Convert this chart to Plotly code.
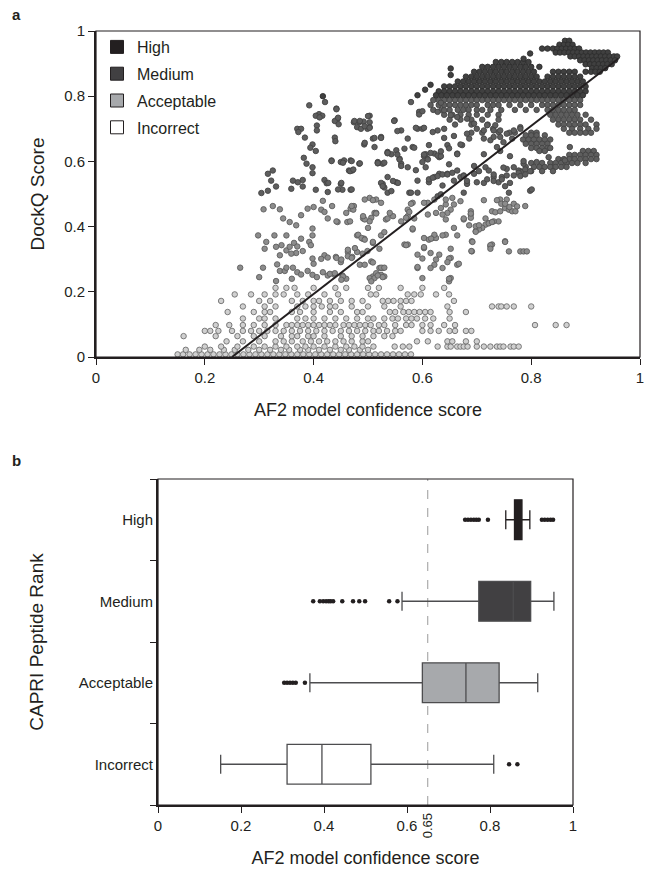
import plotly.graph_objects as go

# ---------------- Panel a: DockQ vs AF2 confidence ----------------
# Incorrect models: rows of (DockQ, [confidence, ...])
INC_ROWS = [
    (0.008, [0.150, 0.160, 0.172, 0.183, 0.194, 0.205, 0.216, 0.227, 0.238, 0.249, 0.260, 0.271, 0.282,
             0.293, 0.304, 0.315, 0.326, 0.337, 0.348, 0.359, 0.370, 0.381, 0.392, 0.403, 0.414, 0.425,
             0.436, 0.447, 0.458, 0.469, 0.480, 0.491, 0.502, 0.513, 0.524, 0.535, 0.546, 0.557, 0.568, 0.579]),
    (0.022, [0.165, 0.19, 0.21, 0.235, 0.255, 0.28, 0.30, 0.32, 0.34, 0.355, 0.375, 0.39, 0.41, 0.43,
             0.45, 0.465, 0.485, 0.50]),
    (0.032, [0.20, 0.23, 0.26, 0.29, 0.31, 0.33, 0.35, 0.37, 0.385, 0.40, 0.42, 0.44, 0.46, 0.475, 0.49,
             0.51, 0.549, 0.564, 0.576, 0.628, 0.646, 0.652, 0.664, 0.67, 0.676, 0.683, 0.70, 0.713, 0.725,
             0.737, 0.743, 0.749, 0.762, 0.768, 0.777]),
    (0.048, [0.24, 0.27, 0.30, 0.33, 0.345, 0.36, 0.38, 0.395, 0.41, 0.425, 0.44, 0.455, 0.47, 0.49, 0.50,
             0.59, 0.61, 0.646, 0.655, 0.68, 0.70]),
    (0.064, [0.161, 0.22, 0.26, 0.29, 0.31, 0.34, 0.36, 0.37, 0.39, 0.40, 0.42, 0.45, 0.47, 0.49, 0.51,
             0.53, 0.545]),
    (0.080, [0.20, 0.21, 0.225, 0.25, 0.27, 0.285, 0.30, 0.315, 0.33, 0.345, 0.36, 0.375, 0.39, 0.405,
             0.42, 0.435, 0.45, 0.465, 0.48, 0.495, 0.51, 0.52, 0.535, 0.55, 0.56, 0.60, 0.615, 0.63, 0.65,
             0.66, 0.68, 0.69]),
    (0.098, [0.22, 0.245, 0.27, 0.29, 0.31, 0.33, 0.35, 0.36, 0.37, 0.38, 0.39, 0.40, 0.41, 0.42, 0.43,
             0.44, 0.455, 0.465, 0.475, 0.485, 0.495, 0.505, 0.52, 0.53, 0.55, 0.57, 0.58, 0.60, 0.615,
             0.64, 0.66, 0.807, 0.845, 0.865]),
    (0.118, [0.27, 0.30, 0.31, 0.33, 0.37, 0.385, 0.40, 0.42, 0.44, 0.46, 0.48, 0.50, 0.51, 0.53, 0.545,
             0.555, 0.57, 0.58, 0.59, 0.605, 0.62, 0.65]),
    (0.138, [0.242, 0.29, 0.31, 0.32, 0.36, 0.375, 0.40, 0.43, 0.45, 0.48, 0.49, 0.54, 0.55, 0.565, 0.575,
             0.585, 0.595, 0.605, 0.615, 0.65, 0.68]),
    (0.155, [0.27, 0.31, 0.33, 0.37, 0.385, 0.40, 0.415, 0.43, 0.44, 0.47, 0.50, 0.53, 0.56, 0.646, 0.728,
             0.74, 0.745, 0.755, 0.768, 0.80]),
    (0.172, [0.23, 0.30, 0.32, 0.36, 0.38, 0.40, 0.41, 0.43, 0.45, 0.47, 0.49, 0.527, 0.537, 0.547, 0.56,
             0.57, 0.58, 0.658]),
    (0.192, [0.255, 0.285, 0.31, 0.33, 0.345, 0.37, 0.39, 0.42, 0.445, 0.505, 0.515, 0.573, 0.585, 0.597,
             0.625, 0.649]),
    (0.212, [0.33, 0.35, 0.365, 0.40, 0.44, 0.46, 0.50, 0.52, 0.56, 0.60, 0.64]),
]

# Acceptable models: (confidence, DockQ)
ACC_PTS = [
    (0.265, 0.274), (0.307, 0.274), (0.298, 0.373), (0.31, 0.332), (0.313, 0.353), (0.328, 0.373),
    (0.35, 0.373), (0.308, 0.453), (0.325, 0.463), (0.338, 0.453), (0.344, 0.425), (0.356, 0.414),
    (0.368, 0.404), (0.377, 0.435), (0.389, 0.455), (0.40, 0.46), (0.417, 0.479), (0.414, 0.452),
    (0.42, 0.445), (0.434, 0.463), (0.426, 0.425), (0.444, 0.414), (0.462, 0.414), (0.468, 0.455),
    (0.474, 0.463), (0.491, 0.425), (0.48, 0.373), (0.49, 0.363), (0.398, 0.394), (0.398, 0.373),
    (0.377, 0.363), (0.331, 0.338), (0.341, 0.343), (0.35, 0.327), (0.356, 0.338), (0.364, 0.35),
    (0.37, 0.339), (0.368, 0.319), (0.38, 0.325), (0.359, 0.317), (0.338, 0.312), (0.392, 0.353),
    (0.395, 0.343), (0.333, 0.284), (0.338, 0.264), (0.347, 0.264), (0.35, 0.274), (0.362, 0.274),
    (0.37, 0.26), (0.377, 0.253), (0.389, 0.264), (0.398, 0.252), (0.406, 0.245), (0.417, 0.26),
    (0.426, 0.25), (0.438, 0.253), (0.453, 0.25), (0.40, 0.286), (0.398, 0.302), (0.42, 0.312),
    (0.426, 0.305), (0.414, 0.301), (0.441, 0.307), (0.45, 0.291), (0.463, 0.322), (0.471, 0.307),
    (0.48, 0.322), (0.49, 0.317), (0.499, 0.325), (0.493, 0.363), (0.331, 0.233), (0.46, 0.24),
    (0.36, 0.24), (0.30, 0.245),
    (0.755, 0.483), (0.743, 0.483), (0.728, 0.447), (0.734, 0.444), (0.743, 0.447), (0.752, 0.457),
    (0.759, 0.452), (0.765, 0.447), (0.771, 0.447), (0.74, 0.416), (0.731, 0.416), (0.722, 0.411),
    (0.716, 0.406), (0.71, 0.396), (0.704, 0.391), (0.698, 0.386), (0.691, 0.355), (0.691, 0.324),
    (0.725, 0.34), (0.728, 0.345), (0.752, 0.355), (0.759, 0.324), (0.78, 0.324), (0.786, 0.324),
    (0.792, 0.324), (0.789, 0.463), (0.67, 0.478), (0.658, 0.468), (0.643, 0.468), (0.634, 0.457),
    (0.652, 0.452), (0.646, 0.442), (0.637, 0.437), (0.625, 0.442), (0.61, 0.473), (0.603, 0.473),
    (0.582, 0.473), (0.573, 0.452), (0.573, 0.432), (0.57, 0.427), (0.561, 0.416), (0.582, 0.391),
    (0.61, 0.437), (0.622, 0.483), (0.643, 0.483), (0.655, 0.488), (0.643, 0.422), (0.658, 0.396),
    (0.676, 0.422), (0.689, 0.447), (0.689, 0.437), (0.689, 0.427), (0.698, 0.401), (0.533, 0.422),
    (0.546, 0.432), (0.54, 0.442), (0.512, 0.442), (0.506, 0.427), (0.503, 0.416), (0.5, 0.396),
    (0.494, 0.422), (0.491, 0.432), (0.473, 0.452), (0.47, 0.463), (0.46, 0.442), (0.442, 0.416),
    (0.467, 0.416), (0.515, 0.442), (0.515, 0.483), (0.503, 0.488), (0.494, 0.483), (0.524, 0.473),
    (0.482, 0.375), (0.488, 0.365), (0.494, 0.36), (0.509, 0.35), (0.476, 0.334), (0.463, 0.329),
    (0.463, 0.309), (0.442, 0.304), (0.451, 0.299), (0.47, 0.304), (0.485, 0.283), (0.494, 0.283),
    (0.506, 0.293), (0.521, 0.273), (0.527, 0.273), (0.509, 0.247), (0.503, 0.242), (0.512, 0.242),
    (0.524, 0.252), (0.53, 0.247), (0.515, 0.257), (0.506, 0.232), (0.454, 0.247), (0.451, 0.237),
    (0.43, 0.255), (0.439, 0.257), (0.567, 0.345), (0.573, 0.345), (0.591, 0.314), (0.603, 0.334),
    (0.612, 0.36), (0.619, 0.365), (0.625, 0.365), (0.622, 0.375), (0.643, 0.375), (0.603, 0.365),
    (0.615, 0.319), (0.631, 0.314), (0.625, 0.299), (0.622, 0.283), (0.615, 0.273), (0.637, 0.273),
    (0.652, 0.304), (0.664, 0.283), (0.652, 0.242), (0.649, 0.232), (0.591, 0.273), (0.60, 0.242),
    (0.509, 0.481), (0.515, 0.44), (0.536, 0.425), (0.524, 0.373), (0.53, 0.383), (0.509, 0.353),
    (0.521, 0.332), (0.509, 0.29), (0.524, 0.274), (0.53, 0.274), (0.518, 0.25), (0.527, 0.245),
    (0.579, 0.47), (0.576, 0.445), (0.585, 0.425), (0.582, 0.394), (0.57, 0.343), (0.591, 0.276),
    (0.60, 0.302), (0.603, 0.337), (0.616, 0.363), (0.637, 0.373), (0.649, 0.302), (0.646, 0.291),
    (0.649, 0.24), (0.664, 0.373), (0.652, 0.332), (0.667, 0.286), (0.676, 0.425), (0.686, 0.404),
    (0.689, 0.44), (0.698, 0.384), (0.704, 0.404), (0.713, 0.481), (0.716, 0.425), (0.722, 0.41),
    (0.728, 0.414), (0.737, 0.481), (0.725, 0.343), (0.725, 0.332), (0.692, 0.353), (0.69, 0.325),
    (0.752, 0.353), (0.745, 0.47), (0.752, 0.47), (0.76, 0.46), (0.768, 0.47), (0.774, 0.462),
]

# Medium models: dense rows (DockQ, [confidence, ...]) plus scattered points
MED_ROWS = [
    (0.788, [0.62, 0.63, 0.64, 0.65, 0.66, 0.67, 0.68, 0.69, 0.70, 0.71, 0.72, 0.73, 0.74, 0.75, 0.76,
             0.77, 0.78, 0.79, 0.80, 0.81, 0.82, 0.83, 0.84, 0.85, 0.86, 0.87, 0.88, 0.89]),
    (0.773, [0.615, 0.63, 0.64, 0.65, 0.66, 0.67, 0.68, 0.69, 0.70, 0.72, 0.73, 0.74, 0.76, 0.78, 0.80,
             0.82, 0.83, 0.84, 0.85, 0.86, 0.87, 0.88, 0.89]),
    (0.758, [0.62, 0.635, 0.65, 0.665, 0.675, 0.685, 0.70, 0.71, 0.725, 0.745, 0.77, 0.79, 0.81, 0.83,
             0.84, 0.85, 0.86, 0.87, 0.88]),
    (0.743, [0.64, 0.655, 0.67, 0.685, 0.70, 0.72, 0.74, 0.835, 0.845, 0.855, 0.865, 0.875, 0.885, 0.90]),
    (0.728, [0.65, 0.67, 0.69, 0.71, 0.74, 0.84, 0.85, 0.86, 0.87, 0.88, 0.89, 0.91]),
    (0.713, [0.66, 0.69, 0.72, 0.85, 0.86, 0.87, 0.88, 0.89, 0.90, 0.92]),
    (0.700, [0.64, 0.70, 0.73, 0.86, 0.875, 0.89, 0.905, 0.92]),
    (0.688, [0.69, 0.71, 0.76, 0.77, 0.80, 0.81, 0.87, 0.88, 0.89, 0.90, 0.91]),
    (0.680, [0.79, 0.80, 0.81, 0.825]),
    (0.667, [0.785, 0.795, 0.805, 0.815, 0.825, 0.835]),
    (0.654, [0.79, 0.80, 0.81, 0.82, 0.83]),
    (0.641, [0.80, 0.81, 0.82, 0.83, 0.835]),
    (0.632, [0.815, 0.825, 0.895, 0.905, 0.915]),
    (0.620, [0.87, 0.88, 0.89, 0.90, 0.91, 0.92]),
    (0.607, [0.85, 0.86, 0.87, 0.88, 0.89, 0.90, 0.91, 0.92]),
    (0.595, [0.80, 0.82, 0.835, 0.845, 0.855, 0.865, 0.875, 0.885, 0.90]),
    (0.583, [0.79, 0.805, 0.815, 0.825, 0.835, 0.845, 0.855, 0.865]),
    (0.570, [0.78, 0.80, 0.82, 0.84]),
]
MED_PTS = [
    (0.421, 0.782), (0.392, 0.772), (0.442, 0.762), (0.41, 0.745), (0.404, 0.74), (0.416, 0.74),
    (0.411, 0.735), (0.444, 0.73), (0.439, 0.724), (0.446, 0.714), (0.474, 0.72), (0.484, 0.72),
    (0.492, 0.722), (0.48, 0.705), (0.487, 0.70), (0.499, 0.70), (0.37, 0.70), (0.377, 0.70),
    (0.372, 0.69), (0.384, 0.673), (0.406, 0.71), (0.406, 0.695), (0.439, 0.673), (0.44, 0.662),
    (0.493, 0.652), (0.398, 0.652), (0.394, 0.642), (0.404, 0.632), (0.382, 0.611), (0.387, 0.593),
    (0.398, 0.582), (0.398, 0.564), (0.433, 0.603), (0.45, 0.598), (0.456, 0.603), (0.468, 0.603),
    (0.465, 0.572), (0.471, 0.572), (0.484, 0.593), (0.316, 0.562), (0.325, 0.572), (0.322, 0.541),
    (0.331, 0.523), (0.304, 0.503), (0.316, 0.51), (0.362, 0.541), (0.371, 0.536), (0.38, 0.543),
    (0.38, 0.523), (0.359, 0.516), (0.42, 0.543), (0.424, 0.533), (0.45, 0.531), (0.468, 0.513),
    (0.453, 0.513), (0.426, 0.506), (0.404, 0.513),
    (0.503, 0.74), (0.503, 0.72), (0.503, 0.705), (0.549, 0.726), (0.579, 0.782), (0.594, 0.752),
    (0.561, 0.695), (0.591, 0.70), (0.60, 0.70), (0.628, 0.695), (0.619, 0.69), (0.573, 0.67),
    (0.509, 0.67), (0.524, 0.675), (0.512, 0.644), (0.536, 0.629), (0.552, 0.634), (0.567, 0.639),
    (0.582, 0.644), (0.612, 0.65), (0.622, 0.624), (0.631, 0.613), (0.646, 0.65), (0.649, 0.64),
    (0.673, 0.65), (0.664, 0.624), (0.682, 0.685), (0.686, 0.67), (0.713, 0.67), (0.725, 0.665),
    (0.731, 0.675), (0.74, 0.69), (0.737, 0.644), (0.755, 0.685), (0.765, 0.67), (0.749, 0.659),
    (0.768, 0.695), (0.78, 0.705), (0.518, 0.598), (0.527, 0.593), (0.558, 0.608), (0.561, 0.593),
    (0.573, 0.582), (0.60, 0.598), (0.609, 0.608), (0.606, 0.582), (0.628, 0.618), (0.631, 0.562),
    (0.622, 0.552), (0.646, 0.562), (0.664, 0.572), (0.67, 0.552), (0.676, 0.557), (0.695, 0.562),
    (0.716, 0.582), (0.722, 0.572), (0.755, 0.577), (0.768, 0.582), (0.777, 0.572), (0.786, 0.593),
    (0.81, 0.598), (0.832, 0.613), (0.862, 0.603), (0.871, 0.644), (0.527, 0.531), (0.53, 0.52),
    (0.536, 0.552), (0.552, 0.536), (0.591, 0.541), (0.612, 0.536), (0.637, 0.526), (0.658, 0.541),
    (0.682, 0.531), (0.70, 0.536), (0.731, 0.552), (0.74, 0.536), (0.746, 0.552), (0.755, 0.557),
    (0.768, 0.557), (0.783, 0.567), (0.798, 0.51),
    (0.433, 0.601), (0.454, 0.596), (0.47, 0.601), (0.485, 0.594), (0.518, 0.594), (0.53, 0.596),
    (0.558, 0.606), (0.561, 0.586), (0.588, 0.573), (0.603, 0.616), (0.61, 0.606), (0.634, 0.616),
    (0.649, 0.591), (0.664, 0.622), (0.713, 0.622), (0.743, 0.632), (0.761, 0.616), (0.786, 0.601),
    (0.789, 0.575), (0.467, 0.57), (0.473, 0.575), (0.536, 0.625), (0.543, 0.622), (0.606, 0.622),
    (0.427, 0.534), (0.451, 0.534), (0.445, 0.514), (0.47, 0.514), (0.524, 0.534), (0.527, 0.524),
    (0.546, 0.54), (0.555, 0.534), (0.536, 0.504), (0.543, 0.509), (0.576, 0.504), (0.591, 0.504),
    (0.612, 0.545), (0.619, 0.55), (0.628, 0.555), (0.637, 0.56), (0.646, 0.56), (0.655, 0.565),
    (0.676, 0.555), (0.682, 0.54), (0.695, 0.586), (0.704, 0.57), (0.713, 0.534), (0.719, 0.545),
    (0.731, 0.56), (0.731, 0.54), (0.749, 0.581), (0.761, 0.534), (0.777, 0.565), (0.78, 0.555),
    (0.789, 0.56), (0.798, 0.57), (0.746, 0.545), (0.752, 0.524), (0.759, 0.504), (0.801, 0.514),
    (0.628, 0.493), (0.634, 0.499), (0.579, 0.504), (0.676, 0.504),
    (0.442, 0.76), (0.445, 0.734), (0.475, 0.724), (0.485, 0.724), (0.50, 0.739), (0.494, 0.708),
    (0.503, 0.703), (0.548, 0.724), (0.594, 0.744), (0.60, 0.754), (0.588, 0.703), (0.603, 0.703),
    (0.554, 0.693), (0.512, 0.672), (0.524, 0.672), (0.494, 0.657), (0.585, 0.642), (0.64, 0.672),
    (0.658, 0.678), (0.67, 0.652), (0.603, 0.621), (0.615, 0.626), (0.634, 0.631), (0.536, 0.626),
    (0.518, 0.595), (0.554, 0.621), (0.628, 0.752), (0.64, 0.757), (0.652, 0.742), (0.664, 0.736),
    (0.682, 0.731), (0.695, 0.716), (0.713, 0.695), (0.731, 0.695), (0.743, 0.695), (0.743, 0.675),
    (0.734, 0.711), (0.719, 0.711), (0.78, 0.70), (0.634, 0.78),
]

# High models: dense rows (DockQ, [confidence, ...]) plus scattered points
HIGH_ROWS = [
    (0.970, [0.862, 0.870]),
    (0.958, [0.852, 0.860, 0.868, 0.876]),
    (0.946, [0.820, 0.830, 0.840, 0.848, 0.856, 0.864, 0.872, 0.880, 0.888]),
    (0.934, [0.845, 0.853, 0.861, 0.869, 0.877, 0.885, 0.893, 0.901, 0.909, 0.917, 0.925, 0.933, 0.941]),
    (0.922, [0.872, 0.880, 0.888, 0.896, 0.904, 0.912, 0.920, 0.928, 0.936, 0.944, 0.952, 0.958]),
    (0.910, [0.890, 0.898, 0.906, 0.914, 0.922, 0.930, 0.938, 0.946, 0.954]),
    (0.905, [0.735, 0.745, 0.755, 0.765, 0.775, 0.785, 0.795]),
    (0.898, [0.900, 0.908, 0.916, 0.924, 0.932, 0.940, 0.948]),
    (0.890, [0.71, 0.72, 0.73, 0.74, 0.75, 0.76, 0.77, 0.78, 0.79, 0.80, 0.815]),
    (0.886, [0.912, 0.920, 0.928, 0.936]),
    (0.875, [0.695, 0.705, 0.715, 0.725, 0.735, 0.745, 0.755, 0.765, 0.775, 0.785, 0.795, 0.805, 0.84,
             0.85, 0.86, 0.87, 0.88, 0.90, 0.91, 0.918, 0.926]),
    (0.860, [0.68, 0.69, 0.70, 0.71, 0.72, 0.73, 0.74, 0.75, 0.76, 0.77, 0.78, 0.79, 0.80, 0.81, 0.83,
             0.84, 0.85, 0.86, 0.87, 0.88, 0.89]),
    (0.845, [0.665, 0.675, 0.685, 0.695, 0.705, 0.715, 0.725, 0.735, 0.745, 0.755, 0.765, 0.775, 0.785,
             0.795, 0.805, 0.815, 0.825, 0.835, 0.845, 0.855, 0.865, 0.875, 0.885, 0.895]),
    (0.830, [0.64, 0.65, 0.66, 0.67, 0.68, 0.69, 0.70, 0.71, 0.72, 0.73, 0.74, 0.75, 0.76, 0.77, 0.78,
             0.79, 0.80, 0.81, 0.82, 0.83, 0.84, 0.85, 0.86, 0.87, 0.88, 0.89, 0.90]),
    (0.815, [0.63, 0.64, 0.65, 0.66, 0.67, 0.68, 0.69, 0.70, 0.71, 0.72, 0.73, 0.74, 0.75, 0.76, 0.77,
             0.78, 0.79, 0.80, 0.81, 0.82, 0.83, 0.84, 0.85, 0.86, 0.87, 0.88, 0.89, 0.90]),
    (0.803, [0.625, 0.635, 0.645, 0.655, 0.665, 0.675, 0.685, 0.695, 0.705, 0.715, 0.725, 0.735, 0.745,
             0.755, 0.765, 0.775, 0.785, 0.795, 0.805, 0.815, 0.825, 0.835, 0.845, 0.855, 0.865, 0.875,
             0.885, 0.895]),
]
HIGH_PTS = [
    (0.417, 0.80), (0.591, 0.803), (0.652, 0.885), (0.652, 0.865), (0.798, 0.931), (0.786, 0.915),
    (0.605, 0.82), (0.615, 0.835),
]

# Fitted trend line (two end points)
FIT_X = [0.25, 0.96]
FIT_Y = [0.0, 0.915]

# ---------------- Panel b: box plots by CAPRI rank ----------------
RANKS = ["High", "Medium", "Acceptable", "Incorrect"]
BOX_Q1 = [0.859, 0.773, 0.637, 0.311]
BOX_MEDIAN = [0.868, 0.856, 0.742, 0.395]
BOX_Q3 = [0.877, 0.898, 0.822, 0.513]
BOX_LOW = [0.838, 0.588, 0.366, 0.151]
BOX_HIGH = [0.896, 0.954, 0.915, 0.809]
OUT_HIGH = [0.740, 0.747, 0.754, 0.761, 0.767, 0.773, 0.795, 0.925, 0.932, 0.939, 0.946, 0.952]
OUT_MEDIUM = [0.374, 0.390, 0.398, 0.405, 0.411, 0.416, 0.422, 0.444, 0.470, 0.485, 0.499, 0.557, 0.577]
OUT_ACCEPTABLE = [0.304, 0.311, 0.318, 0.325, 0.332, 0.354]
OUT_INCORRECT = [0.846, 0.866]
THRESHOLD = 0.65

# ---------------- styling ----------------
FONT = "Liberation Sans, Arial, sans-serif"
INK = "#231f20"
W, H = 646, 873
FILL = {"High": "#231f20", "Medium": "#414042", "Acceptable": "#a7a9ac", "Incorrect": "#ffffff"}
DOT_FILL = {"High": "#404040", "Medium": "#5e5e5e", "Acceptable": "#8c8c8c", "Incorrect": "#d0d0d0"}
DOT_LINE = {"High": "#2e2e2e", "Medium": "#444444", "Acceptable": "#5e5e5e", "Incorrect": "#6e6e6e"}
BOX_LINE = {"High": "#231f20", "Medium": "#4d4d4f", "Acceptable": "#4d4d4f", "Incorrect": "#4d4d4f"}


def expand_rows(rows):
    xs, ys = [], []
    for y, row in rows:
        for x in row:
            xs.append(x)
            ys.append(y)
    return xs, ys


def split_pts(pts):
    return [p[0] for p in pts], [p[1] for p in pts]


inc_x, inc_y = expand_rows(INC_ROWS)
acc_x, acc_y = split_pts(ACC_PTS)
mr_x, mr_y = expand_rows(MED_ROWS)
mp_x, mp_y = split_pts(MED_PTS)
hr_x, hr_y = expand_rows(HIGH_ROWS)
hp_x, hp_y = split_pts(HIGH_PTS)

series = {
    "Incorrect": (inc_x, inc_y),
    "Acceptable": (acc_x, acc_y),
    "Medium": (mr_x + mp_x, mr_y + mp_y),
    "High": (hr_x + hp_x, hr_y + hp_y),
}

fig = go.Figure()

# legend entries (square swatches)
for name in RANKS:
    fig.add_trace(go.Scatter(
        x=[None], y=[None], mode="markers", name=name, legendgroup=name,
        marker=dict(symbol="square", size=13, color=FILL[name], line=dict(color=INK, width=1)),
        xaxis="x", yaxis="y"))

for name in ["Incorrect", "Acceptable", "Medium", "High"]:
    xs, ys = series[name]
    fig.add_trace(go.Scatter(
        x=xs, y=ys, mode="markers", showlegend=False, cliponaxis=False,
        marker=dict(size=5.5, color=DOT_FILL[name], line=dict(color=DOT_LINE[name], width=0.9)),
        xaxis="x", yaxis="y", hoverinfo="skip"))

fig.add_trace(go.Scatter(x=FIT_X, y=FIT_Y, mode="lines", showlegend=False,
                         line=dict(color=INK, width=2), xaxis="x", yaxis="y"))

# box plots
for i, name in enumerate(RANKS):
    fig.add_trace(go.Box(
        y=[name], q1=[BOX_Q1[i]], median=[BOX_MEDIAN[i]], q3=[BOX_Q3[i]],
        lowerfence=[BOX_LOW[i]], upperfence=[BOX_HIGH[i]], orientation="h",
        fillcolor=FILL[name], line=dict(color=BOX_LINE[name], width=1.3), width=0.49,
        whiskerwidth=0.48, boxpoints=False, showlegend=False, xaxis="x2", yaxis="y2",
        hoverinfo="skip"))

for name, outs in zip(RANKS, [OUT_HIGH, OUT_MEDIUM, OUT_ACCEPTABLE, OUT_INCORRECT]):
    fig.add_trace(go.Scatter(
        x=outs, y=[name] * len(outs), mode="markers", showlegend=False,
        marker=dict(size=4.5, color=INK), xaxis="x2", yaxis="y2", hoverinfo="skip"))

ticks = [0, 0.2, 0.4, 0.6, 0.8, 1]
ticktext = ["0", "0.2", "0.4", "0.6", "0.8", "1"]

axis_common = dict(showgrid=False, zeroline=False, showline=True, linecolor=INK, linewidth=2,
                   ticks="outside", ticklen=6, tickwidth=1.2, tickcolor=INK, automargin=False,
                   ticklabeloverflow="allow",
                   tickfont=dict(family=FONT, size=15, color=INK))

fig.update_layout(
    width=W, height=H, margin=dict(l=0, r=0, t=0, b=0, autoexpand=False),
    paper_bgcolor="white", plot_bgcolor="white",
    font=dict(family=FONT, color=INK),
    showlegend=True,
    legend=dict(x=97 / W, y=1 - 30 / H, xanchor="left", yanchor="top", bgcolor="rgba(0,0,0,0)",
                font=dict(family=FONT, size=16, color=INK), tracegroupgap=3, itemsizing="trace",
                traceorder="grouped"),
    xaxis=dict(domain=[96 / W, 640 / W], range=[0, 1], anchor="y", tickvals=ticks, ticktext=ticktext,
               title=dict(text="AF2 model confidence score", font=dict(family=FONT, size=18, color=INK),
                          standoff=18),
               **axis_common),
    yaxis=dict(domain=[1 - 357 / H, 1 - 31 / H], range=[0, 1], anchor="x", tickvals=ticks,
               ticktext=ticktext,
               title=dict(text="DockQ Score", font=dict(family=FONT, size=19, color=INK), standoff=14),
               **axis_common),
    xaxis2=dict(domain=[158 / W, 573 / W], range=[0, 1], anchor="y2", tickvals=ticks, ticktext=ticktext,
                title=dict(text="AF2 model confidence score", font=dict(family=FONT, size=18, color=INK),
                           standoff=18),
                **axis_common),
    yaxis2=dict(domain=[1 - 805 / H, 1 - 479 / H], anchor="x2", type="category",
                categoryorder="array", categoryarray=RANKS[::-1], range=[-0.5, 3.5],
                tickson="boundaries",
                title=dict(text="CAPRI Peptide Rank", font=dict(family=FONT, size=19, color=INK),
                           standoff=30),
                **axis_common),
    shapes=[
        dict(type="rect", xref="x domain", yref="y domain", x0=0, x1=1, y0=0, y1=1,
             line=dict(color=INK, width=1.2)),
        dict(type="rect", xref="x2 domain", yref="y2 domain", x0=0, x1=1, y0=0, y1=1,
             line=dict(color=INK, width=1.2)),
        dict(type="line", xref="x2", yref="y2 domain", x0=THRESHOLD, x1=THRESHOLD, y0=0, y1=1,
             line=dict(color="#9a9a9a", width=1, dash="dash"), layer="below"),
    ],
    annotations=[
        dict(text="<b>a</b>", x=10 / W, y=1 - 4 / H, xref="paper", yref="paper", xanchor="left",
             yanchor="top", showarrow=False, font=dict(family=FONT, size=15, color=INK)),
        dict(text="<b>b</b>", x=10 / W, y=1 - 450 / H, xref="paper", yref="paper", xanchor="left",
             yanchor="top", showarrow=False, font=dict(family=FONT, size=15, color=INK)),
        dict(text=str(THRESHOLD), x=THRESHOLD, xref="x2", y=1 - 811 / H, yref="paper",
             yanchor="top", textangle=-90, showarrow=False,
             font=dict(family=FONT, size=13, color=INK)),
    ],
)

fig.write_html("out.html", post_script="document.body.style.margin='0px';",
               config={"displayModeBar": False})
